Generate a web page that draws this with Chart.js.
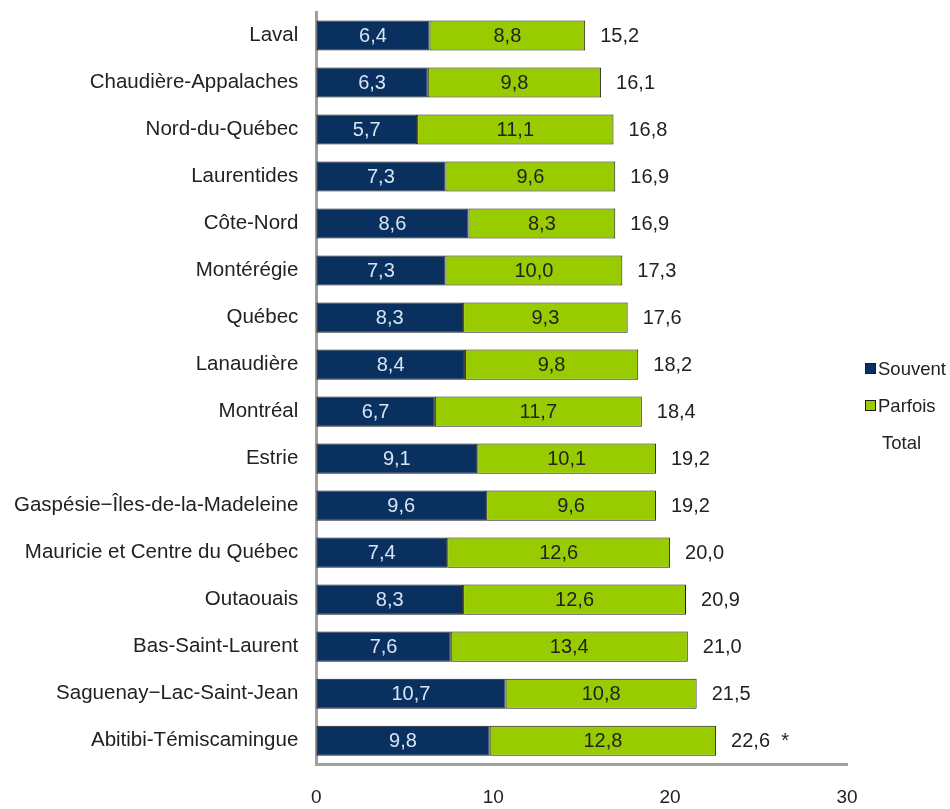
<!DOCTYPE html>
<html>
<head>
<meta charset="utf-8">
<script src="https://cdn.jsdelivr.net/npm/chart.js@4"></script>
<style>
    html, body { margin: 0; padding: 0; background: #fff; }
    #wrap { position: relative; width: 950px; height: 809px; }
    .legend {
        position: absolute; left: 865px; top: 359px;
        font: 18.5px "Liberation Sans", Arial, sans-serif; color: #222;
    }
    .legend div { height: 37px; line-height: 20px; white-space: nowrap; }
    .legend span {
        display: inline-block; width: 9px; height: 9px; margin-right: 2px;
        border: 1px solid #1a1a1a; vertical-align: 1px;
    }
    .legend .blank { visibility: hidden; margin-right: 6px; }
</style>
</head>
<body>
<div id="wrap">
    <canvas id="chart" width="950" height="809"></canvas>
    <div class="legend" id="legend"></div>
</div>
<script>
// Data
const regions = [
    'Laval',
    'Chaudière-Appalaches',
    'Nord-du-Québec',
    'Laurentides',
    'Côte-Nord',
    'Montérégie',
    'Québec',
    'Lanaudière',
    'Montréal',
    'Estrie',
    'Gaspésie\u2212Îles-de-la-Madeleine',
    'Mauricie et Centre du Québec',
    'Outaouais',
    'Bas-Saint-Laurent',
    'Saguenay\u2212Lac-Saint-Jean',
    'Abitibi-Témiscamingue'
];
const souvent = [6.4, 6.3, 5.7, 7.3, 8.6, 7.3, 8.3, 8.4, 6.7, 9.1, 9.6, 7.4, 8.3, 7.6, 10.7, 9.8];
const parfois = [8.8, 9.8, 11.1, 9.6, 8.3, 10.0, 9.3, 9.8, 11.7, 10.1, 9.6, 12.6, 12.6, 13.4, 10.8, 12.8];
const totals = [15.2, 16.1, 16.8, 16.9, 16.9, 17.3, 17.6, 18.2, 18.4, 19.2, 19.2, 20.0, 20.9, 21.0, 21.5, 22.6];
const totalNotes = ['', '', '', '', '', '', '', '', '', '', '', '', '', '', '', '*'];
const xTicks = [0, 10, 20, 30];

const NAVY = '#0a3060';
const GREEN = '#99cc00';
const FONT = '"Liberation Sans", Arial, sans-serif';
const X_PAD = 22;
const Y_PAD = 18;

const fmt = v => v.toFixed(1).replace('.', ',');

// Value labels inside bars + totals at the end
const barLabels = {
    id: 'barLabels',
    afterDatasetsDraw(chart) {
        const ctx = chart.ctx;
        ctx.save();
        ctx.font = '20px ' + FONT;
        ctx.textBaseline = 'middle';
        chart.data.datasets.forEach((ds, i) => {
            const meta = chart.getDatasetMeta(i);
            meta.data.forEach((bar, j) => {
                const c = bar.getCenterPoint();
                ctx.textAlign = 'center';
                ctx.fillStyle = i === 0 ? '#d6e4f3' : '#222';
                ctx.fillText(fmt(ds.data[j]), c.x, c.y + 1);
                if (i === chart.data.datasets.length - 1) {
                    ctx.textAlign = 'left';
                    ctx.fillStyle = '#222';
                    let t = fmt(totals[j]);
                    if (totalNotes[j]) t += '  ' + totalNotes[j];
                    ctx.fillText(t, bar.x + 15, c.y + 1);
                }
            });
        });
        ctx.restore();
    }
};

const chart = new Chart(document.getElementById('chart'), {
    type: 'bar',
    data: {
        labels: regions,
        datasets: [
            {
                label: 'Souvent',
                data: souvent,
                backgroundColor: NAVY,
                borderColor: '#1a1a1a',
                borderWidth: 1,
                borderSkipped: false,
                barPercentage: 0.8,
                categoryPercentage: 0.8
            },
            {
                label: 'Parfois',
                data: parfois,
                backgroundColor: GREEN,
                borderColor: '#1a1a1a',
                borderWidth: 1,
                borderSkipped: false,
                barPercentage: 0.8,
                categoryPercentage: 0.8
            }
        ]
    },
    options: {
        indexAxis: 'y',
        responsive: false,
        animation: false,
        layout: { padding: { left: 14, top: 12, right: 103, bottom: 0 } },
        plugins: {
            tooltip: { enabled: false },
            legend: { display: false }
        },
        scales: {
            x: {
                stacked: true,
                min: xTicks[0],
                max: xTicks[xTicks.length - 1],
                afterBuildTicks: axis => { axis.ticks = xTicks.map(v => ({ value: v })); },
                // chart.js reserves the tick padding twice, keep it once
                afterFit: scale => { scale.height -= X_PAD; },
                grid: { display: false, drawTicks: false },
                border: { color: '#a0a0a0', width: 3 },
                ticks: {
                    padding: X_PAD,
                    color: '#222',
                    font: { family: FONT, size: 19 }
                }
            },
            y: {
                stacked: true,
                grid: { display: false, drawTicks: false },
                border: { color: '#a0a0a0', width: 3 },
                afterFit: scale => {
                    scale.paddingTop = 0;
                    scale.paddingBottom = 0;
                    scale.width -= Y_PAD;
                },
                ticks: {
                    padding: Y_PAD,
                    color: '#222',
                    font: { family: FONT, size: 20.5 }
                }
            }
        }
    },
    plugins: [barLabels]
});

// HTML legend (Total has no swatch)
const legendEl = document.getElementById('legend');
chart.data.datasets.forEach(ds => {
    legendEl.innerHTML += '<div><span style="background:' + ds.backgroundColor + '"></span>' + ds.label + '</div>';
});
legendEl.innerHTML += '<div><span class="blank"></span>Total</div>';
</script>
</body>
</html>
